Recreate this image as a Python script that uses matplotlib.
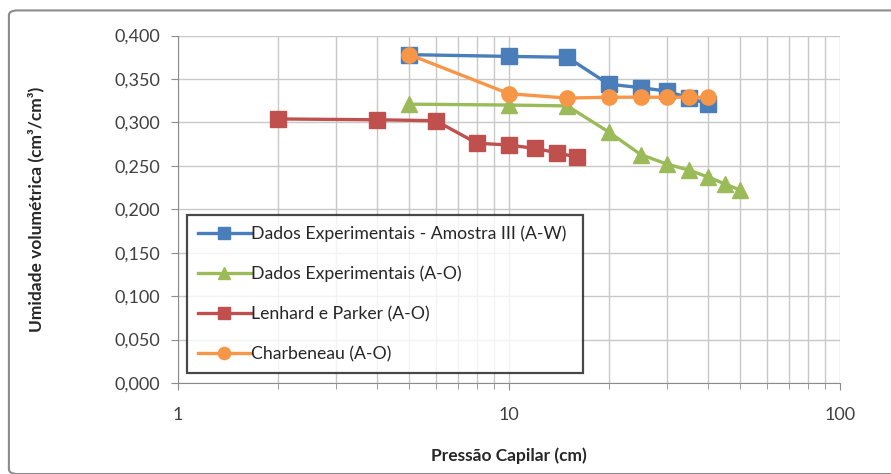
import matplotlib
matplotlib.use("Agg")
import matplotlib.pyplot as plt
from matplotlib.patches import FancyBboxPatch
from matplotlib.ticker import FixedLocator, FuncFormatter, LogLocator, NullFormatter

plt.rcParams['font.family'] = ['Lato', 'DejaVu Sans']

# dados
p_amostra3 = [5, 10, 15, 20, 25, 30, 35, 40]
u_amostra3 = [0.378, 0.376, 0.375, 0.344, 0.340, 0.336, 0.328, 0.321]

p_exp_ao = [5, 10, 15, 20, 25, 30, 35, 40, 45, 50]
u_exp_ao = [0.321, 0.320, 0.319, 0.289, 0.263, 0.252, 0.245, 0.237, 0.229, 0.222]

p_lenhard = [2, 4, 6, 8, 10, 12, 14, 16]
u_lenhard = [0.304, 0.303, 0.302, 0.276, 0.274, 0.270, 0.265, 0.260]

p_charb = [5, 10, 15, 20, 25, 30, 35, 40]
u_charb = [0.378, 0.333, 0.328, 0.329, 0.329, 0.329, 0.329, 0.329]

y_ticks = [0.0, 0.05, 0.10, 0.15, 0.20, 0.25, 0.30, 0.35, 0.40]

fig = plt.figure(figsize=(8.91, 4.74), dpi=100)
fig.patch.set_facecolor('white')

# moldura externa arredondada
moldura = FancyBboxPatch((0.010, 0.0), 1.2, 0.978, boxstyle="round,pad=0,rounding_size=0.01",
                         transform=fig.transFigure, facecolor='none',
                         edgecolor='#8c8c8c', linewidth=1.5, zorder=-1)
fig.patches.append(moldura)

ax = fig.add_axes([0.1998, 0.192, 0.743, 0.733])
ax.set_facecolor('none')

lw = 2.4
ax.plot(p_amostra3, u_amostra3, color='#4a7ebb', marker='s', markersize=11, lw=lw,
        label='Dados Experimentais - Amostra III (A-W)', zorder=3)
ax.plot(p_exp_ao, u_exp_ao, color='#9bbb59', marker='^', markersize=11, lw=lw,
        label='Dados Experimentais (A-O)', zorder=3)
ax.plot(p_lenhard, u_lenhard, color='#c0504d', marker='s', markersize=11, lw=lw,
        label='Lenhard e Parker (A-O)', zorder=3)
ax.plot(p_charb, u_charb, color='#f79646', marker='o', markersize=11, lw=lw,
        label='Charbeneau (A-O)', zorder=4)

ax.set_xscale('log')
ax.set_xlim(1, 100)
ax.set_ylim(0, 0.4)
ax.xaxis.set_major_locator(FixedLocator([1, 10, 100]))
ax.xaxis.set_major_formatter(FuncFormatter(lambda v, p: '%d' % v))
ax.xaxis.set_minor_locator(LogLocator(base=10, subs=range(2, 10)))
ax.xaxis.set_minor_formatter(NullFormatter())
ax.yaxis.set_major_locator(FixedLocator(y_ticks))
ax.yaxis.set_major_formatter(FuncFormatter(lambda v, p: ('%.3f' % v).replace('.', ',')))

ax.grid(True, which='major', color='#c8c8c8', lw=1.0)
ax.grid(True, which='minor', axis='x', color='#c8c8c8', lw=1.0)

for s in ['top', 'right']:
    ax.spines[s].set_visible(False)
for s in ['left', 'bottom']:
    ax.spines[s].set_color('#8c8c8c')
ax.tick_params(axis='both', which='both', colors='#8c8c8c', labelcolor='#404040', labelsize=13)
ax.tick_params(axis='y', length=5, pad=8)
ax.tick_params(axis='x', which='major', length=5, pad=12)
ax.tick_params(axis='x', which='minor', length=4)

ax.set_xlabel('Pressão Capilar (cm)', fontsize=12.5, fontweight='bold', color='#262626', labelpad=18)
ax.set_ylabel('Umidade volumétrica (cm³/cm³)', fontsize=12.5, fontweight='bold', color='#262626', labelpad=50)

leg = ax.legend(loc='lower left', bbox_to_anchor=(0.0136, 0.029, 0.598, 0.46), mode='expand',
                fontsize=12.7, frameon=True, fancybox=False, handlelength=3.0,
                handletextpad=0.05, labelspacing=1.35, borderpad=0.6, markerscale=0.8,
                borderaxespad=0)
leg.get_frame().set_edgecolor('#1a1a1a')
leg.get_frame().set_linewidth(1.6)
for t in leg.get_texts():
    t.set_color('#262626')

fig.savefig('out.png', dpi=100)
